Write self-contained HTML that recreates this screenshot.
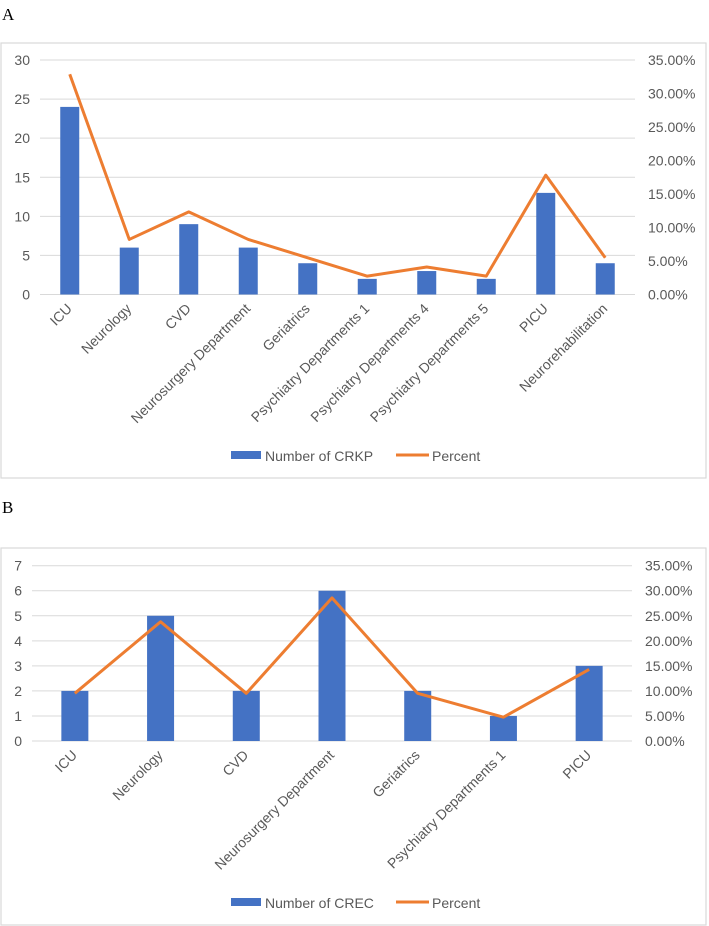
<!DOCTYPE html>
<html><head><meta charset="utf-8"><style>
body{margin:0;background:#fff;}
svg{display:block;font-family:"Liberation Sans",sans-serif;}
</style></head><body>
<svg id="s" width="709" height="926" viewBox="0 0 709 926">
<text x="2" y="20" font-family="Liberation Serif" font-size="17" fill="#000">A</text>
<rect x="1" y="43" width="705" height="435" fill="#fff" stroke="#d9d9d9" stroke-width="1.2"/>
<text x="2" y="513" font-family="Liberation Serif" font-size="17" fill="#000">B</text>
<rect x="1" y="548" width="705" height="377" fill="#fff" stroke="#d9d9d9" stroke-width="1.2"/>
<g id="ga"></g><g id="gb"></g>
</svg>
<script>
const catsA=["ICU","Neurology","CVD","Neurosurgery Department","Geriatrics","Psychiatry Departments 1","Psychiatry Departments 4","Psychiatry Departments 5","PICU","Neurorehabilitation"];
const countsA=[24,6,9,6,4,2,3,2,13,4];
const pctA=[32.88,8.22,12.33,8.22,5.48,2.74,4.11,2.74,17.81,5.48];
const ticksLeftA=[0,5,10,15,20,25,30];
const ticksRightA=[0,5,10,15,20,25,30,35];
const catsB=["ICU","Neurology","CVD","Neurosurgery Department","Geriatrics","Psychiatry Departments 1","PICU"];
const countsB=[2,5,2,6,2,1,3];
const pctB=[9.52,23.81,9.52,28.57,9.52,4.76,14.29];
const ticksLeftB=[0,1,2,3,4,5,6,7];
const ticksRightB=[0,5,10,15,20,25,30,35];
const NS="http://www.w3.org/2000/svg";
function mk(p,t,a){const e=document.createElementNS(NS,t);for(const k in a)e.setAttribute(k,a[k]);p.appendChild(e);return e;}
function draw(g,o){
  const {cats,counts,pct,tl,tr,x0,x1,yTop,yBot,lmax,rmax,bw,legY,legName,id}=o;
  const band=(x1-x0)/cats.length;
  const xc=i=>x0+band*(i+0.5);
  const yl=v=>yBot-(v/lmax)*(yBot-yTop);
  const yr=v=>yBot-(v/rmax)*(yBot-yTop);
  tl.forEach(v=>{
    const l=mk(g,'line',{x1:x0,x2:x1,y1:yl(v),y2:yl(v),stroke:'#d9d9d9','stroke-width':1});
    
    
    const t=mk(g,'text',{x:x0-10,y:yl(v)+5,'text-anchor':'end','font-size':14,fill:'#595959'});
    t.textContent=v;
    
    
  });
  tr.forEach(v=>{
    const t=mk(g,'text',{x:x1+13,y:yr(v)+5,'font-size':14,fill:'#595959'});
    t.textContent=v.toFixed(2)+'%';
    
    
  });
  counts.forEach((v,i)=>{
    const r=mk(g,'rect',{x:xc(i)-bw/2,y:yl(v),width:bw,height:yBot-yl(v),fill:'#4472c4'});
    
    
  });
  cats.forEach((c,i)=>{
    const ax=xc(i)+3, ay=yBot+15;
    const t=mk(g,'text',{x:ax,y:ay,'text-anchor':'end','font-size':14,fill:'#595959',transform:`rotate(-45 ${ax} ${ay})`});
    t.textContent=c;
    
    
  });
  const pts=pct.map((v,i)=>xc(i)+','+yr(v)).join(' ');
  const pl=mk(g,'polyline',{points:pts,fill:'none',stroke:'#ed7d31','stroke-width':3,'stroke-linejoin':'round'});
  
  
  const sw=mk(g,'rect',{x:231,y:legY-5,width:30,height:8,fill:'#4472c4'});
  
  
  const lt=mk(g,'text',{x:265,y:legY+5,'font-size':14,fill:'#595959'});
  lt.textContent=legName;
  
  
  const ll=mk(g,'line',{x1:396,x2:429,y1:legY-1,y2:legY-1,stroke:'#ed7d31','stroke-width':3});
  
  
  const pt=mk(g,'text',{x:432,y:legY+5,'font-size':14,fill:'#595959'});
  pt.textContent='Percent';
  
  
}
draw(document.getElementById('ga'),{cats:catsA,counts:countsA,pct:pctA,tl:ticksLeftA,tr:ticksRightA,x0:40,x1:635,yTop:60,yBot:294.5,lmax:30,rmax:35,bw:19,legY:456,legName:'Number of CRKP',id:'a'});
draw(document.getElementById('gb'),{cats:catsB,counts:countsB,pct:pctB,tl:ticksLeftB,tr:ticksRightB,x0:32,x1:632,yTop:565.7,yBot:741,lmax:7,rmax:35,bw:27,legY:903,legName:'Number of CREC',id:'b'});
</script>
</body></html>
